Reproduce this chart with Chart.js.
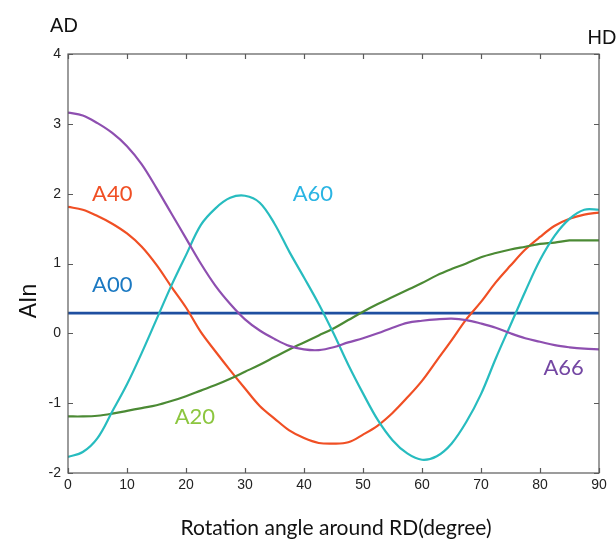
<!DOCTYPE html>
<html>
<head>
<meta charset="utf-8">
<script src="https://cdn.jsdelivr.net/npm/chart.js@4/dist/chart.umd.min.js"></script>
<style>
  html, body { margin: 0; padding: 0; background: #ffffff; }
  #wrap { width: 616px; height: 546px; position: relative; }
</style>
</head>
<body>
<div id="wrap"><canvas id="c" width="616" height="546"></canvas></div>
<script>
// Rotation angle around RD (degree)
const angles = [0, 2.5, 5, 7.5, 10, 12.5, 15, 17.5, 20, 22.5, 25, 27.5, 30, 32.5, 35, 37.5, 40, 42.5, 45,
  47.5, 50, 52.5, 55, 57.5, 60, 62.5, 65, 67.5, 70, 72.5, 75, 77.5, 80, 82.5, 85, 87.5, 90];

const a00 = [0.29, 0.29, 0.29, 0.29, 0.29, 0.29, 0.29, 0.29, 0.29, 0.29, 0.29, 0.29, 0.29, 0.29, 0.29, 0.29, 0.29, 0.29, 0.29,
  0.29, 0.29, 0.29, 0.29, 0.29, 0.29, 0.29, 0.29, 0.29, 0.29, 0.29, 0.29, 0.29, 0.29, 0.29, 0.29, 0.29, 0.29];

const a20 = [-1.19, -1.19, -1.18, -1.15, -1.11, -1.07, -1.03, -0.97, -0.90, -0.82, -0.74, -0.65, -0.55, -0.45, -0.34, -0.23, -0.13, -0.03, 0.07,
  0.19, 0.31, 0.42, 0.52, 0.62, 0.72, 0.83, 0.92, 1.00, 1.09, 1.15, 1.20, 1.24, 1.28, 1.30, 1.33, 1.33, 1.33];

const a40 = [1.81, 1.77, 1.68, 1.57, 1.43, 1.24, 0.98, 0.67, 0.37, 0.02, -0.26, -0.53, -0.79, -1.04, -1.22, -1.39, -1.50, -1.57, -1.58,
  -1.56, -1.45, -1.32, -1.14, -0.92, -0.68, -0.39, -0.10, 0.20, 0.45, 0.73, 0.97, 1.20, 1.38, 1.54, 1.64, 1.70, 1.73];

const a60 = [-1.77, -1.70, -1.50, -1.12, -0.73, -0.28, 0.20, 0.68, 1.12, 1.55, 1.79, 1.94, 1.97, 1.87, 1.57, 1.17, 0.80, 0.42, 0.00,
  -0.45, -0.86, -1.24, -1.53, -1.72, -1.81, -1.76, -1.58, -1.27, -0.87, -0.36, 0.12, 0.60, 1.05, 1.40, 1.64, 1.77, 1.77];

const a66 = [3.16, 3.12, 3.01, 2.87, 2.68, 2.42, 2.08, 1.72, 1.36, 1.00, 0.68, 0.42, 0.20, 0.04, -0.08, -0.18, -0.23, -0.24, -0.20,
  -0.13, -0.07, 0.00, 0.08, 0.15, 0.18, 0.20, 0.21, 0.19, 0.14, 0.08, 0.00, -0.07, -0.12, -0.17, -0.20, -0.22, -0.23];

const xTicks = [0, 10, 20, 30, 40, 50, 60, 70, 80, 90];
const yTicks = [-2, -1, 0, 1, 2, 3, 4];

const seriesLabels = ['A00', 'A20', 'A40', 'A60', 'A66'];

const pts = (vals) => angles.map((a, i) => ({ x: a, y: vals[i] }));

// Curve names written inside the plot, anchored at (angle, AIn)
const curveTags = [
  { text: 'A40', x: 7.5, y: 2.0, color: '#f04f24' },
  { text: 'A00', x: 7.5, y: 0.7, color: '#1b79c2' },
  { text: 'A60', x: 41.5, y: 2.0, color: '#2ab4e3' },
  { text: 'A20', x: 21.5, y: -1.2, color: '#8cc63f' },
  { text: 'A66', x: 84.0, y: -0.5, color: '#7447a3' }
];

const frameAndText = {
  id: 'frameAndText',
  afterDraw(chart) {
    const ctx = chart.ctx;
    const xs = chart.scales.x, ys = chart.scales.y;
    const L = chart.chartArea.left, R = chart.chartArea.right;
    const T = chart.chartArea.top, B = chart.chartArea.bottom;
    ctx.save();
    // box
    ctx.strokeStyle = '#5a5a5a';
    ctx.lineWidth = 1.2;
    ctx.strokeRect(L, T, R - L, B - T);
    // inward ticks on all four sides
    const len = 5;
    ctx.beginPath();
    xTicks.forEach(v => {
      const px = Math.round(xs.getPixelForValue(v)) + 0.5;
      ctx.moveTo(px, B); ctx.lineTo(px, B - len);
      ctx.moveTo(px, T); ctx.lineTo(px, T + len);
    });
    yTicks.forEach(v => {
      const py = Math.round(ys.getPixelForValue(v)) + 0.5;
      ctx.moveTo(L, py); ctx.lineTo(L + len, py);
      ctx.moveTo(R, py); ctx.lineTo(R - len, py);
    });
    ctx.stroke();

    // curve names
    ctx.font = '22px Lato';
    ctx.textAlign = 'center';
    ctx.textBaseline = 'middle';
    curveTags.forEach(t => {
      ctx.fillStyle = t.color;
      ctx.fillText(t.text, xs.getPixelForValue(t.x), ys.getPixelForValue(t.y));
    });

    // direction marks above the axis ends
    ctx.fillStyle = '#111111';
    ctx.font = '20px "Liberation Sans"';
    ctx.textAlign = 'center';
    ctx.textBaseline = 'alphabetic';
    ctx.fillText('AD', 64, 32);
    ctx.fillText('HD', 602, 44);

    // axis titles
    ctx.font = '21px Lato';
    ctx.fillText('Rotation angle around RD(degree)', 336, 535);
    ctx.save();
    ctx.translate(36, 301);
    ctx.rotate(-Math.PI / 2);
    ctx.font = '23px "Liberation Sans"';
    ctx.textBaseline = 'alphabetic';
    ctx.fillText('AIn', 0, 0);
    ctx.restore();
    ctx.restore();
  }
};

const lineStyle = (label, vals, color, width) => ({
  label: label,
  data: pts(vals),
  borderColor: color,
  backgroundColor: color,
  borderWidth: width,
  pointRadius: 0,
  fill: false,
  tension: 0.35
});

new Chart(document.getElementById('c'), {
  type: 'line',
  data: {
    datasets: [
      lineStyle(seriesLabels[4], a66, '#8e4fb0', 2.2),
      lineStyle(seriesLabels[3], a60, '#27bcbf', 2.2),
      lineStyle(seriesLabels[1], a20, '#4b8a34', 2.2),
      lineStyle(seriesLabels[2], a40, '#f04f24', 2.2),
      lineStyle(seriesLabels[0], a00, '#1f4fa0', 2.8)
    ]
  },
  options: {
    responsive: false,
    animation: false,
    layout: { padding: { left: 0, right: 17, top: 54, bottom: 0 } },
    plugins: { legend: { display: false }, tooltip: { enabled: false } },
    scales: {
      x: {
        type: 'linear',
        min: 0, max: 90,
        grid: { display: false, drawTicks: false },
        border: { display: false },
        afterBuildTicks: (s) => { s.ticks = xTicks.map(v => ({ value: v })); },
        afterFit: (s) => { s.height = 73; },
        ticks: { font: { family: 'Liberation Sans', size: 14 }, color: '#222222', padding: 4, maxRotation: 0 }
      },
      y: {
        min: -2, max: 4,
        grid: { display: false, drawTicks: false },
        border: { display: false },
        afterBuildTicks: (s) => { s.ticks = yTicks.map(v => ({ value: v })); },
        afterFit: (s) => { s.width = 68; },
        ticks: { font: { family: 'Liberation Sans', size: 14 }, color: '#222222', padding: 7 }
      }
    }
  },
  plugins: [frameAndText]
});
</script>
</body>
</html>
